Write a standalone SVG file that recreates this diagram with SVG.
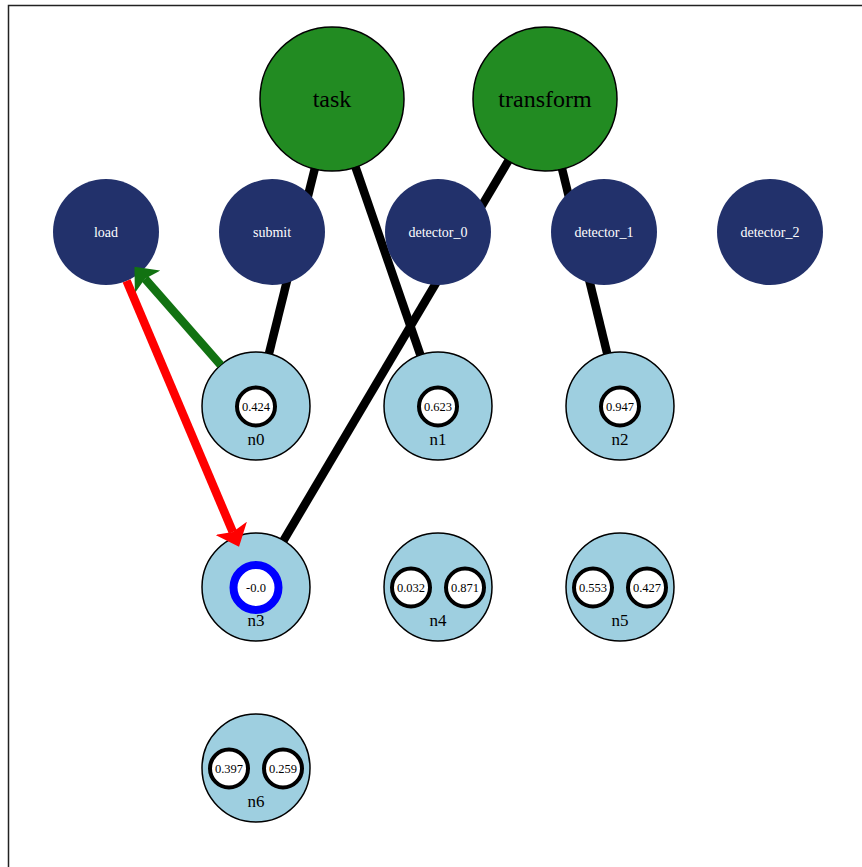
<svg xmlns="http://www.w3.org/2000/svg" width="862" height="867" viewBox="0 0 862 867">
<style>
  text { font-family: "Liberation Serif", "Times New Roman", serif; text-anchor: middle; }
  .big { fill: #228b22; stroke: #000; stroke-width: 1.5; }
  .big-t { font-size: 24px; fill: #000; }
  .navy { fill: #22316b; }
  .navy-t { font-size: 14px; fill: #fff; }
  .lb { fill: #9ecfe0; stroke: #000; stroke-width: 1.5; }
  .lb-t { font-size: 17px; fill: #000; }
  .in { fill: #fff; stroke: #000; stroke-width: 4; }
  .in-sel { fill: #fff; stroke: #0000ff; stroke-width: 8; }
  .num { font-size: 12.5px; fill: #000; }
  .edge { stroke: #000; stroke-width: 8.5; fill: none; }
  .arrow-g { stroke: #127212; stroke-width: 8.5; fill: none; }
  .arrow-r { stroke: #ff0000; stroke-width: 8.5; fill: none; }
</style>
<defs>
  <marker id="headG" viewBox="0 0 20 34" refX="4" refY="17" markerWidth="20" markerHeight="34" markerUnits="userSpaceOnUse" orient="auto">
    <path d="M0,0 L20,17 L0,34 L4,17 z" fill="#127212"/>
  </marker>
  <marker id="headR" viewBox="0 0 20 34" refX="4" refY="17" markerWidth="20" markerHeight="34" markerUnits="userSpaceOnUse" orient="auto">
    <path d="M0,0 L20,17 L0,34 L4,17 z" fill="#ff0000"/>
  </marker>
</defs>
<rect x="8.5" y="5.5" width="900" height="900" fill="none" stroke="#222" stroke-width="1.5"/>

<g id="connectors">
  <line class="edge" x1="332" y1="99" x2="256" y2="406"/>
  <line class="edge" x1="332" y1="99" x2="438" y2="406"/>
  <line class="edge" x1="545" y1="99" x2="256" y2="587"/>
  <line class="edge" x1="545" y1="99" x2="620" y2="406"/>
</g>

<g id="task"><circle class="big" cx="332" cy="99" r="72"/><text class="big-t" x="332" y="107">task</text></g>
<g id="transform"><circle class="big" cx="545" cy="99" r="72"/><text class="big-t" x="545" y="107">transform</text></g>

<g id="load"><circle class="navy" cx="106" cy="232" r="53"/><text class="navy-t" x="106" y="237">load</text></g>
<g id="submit"><circle class="navy" cx="272" cy="232" r="53"/><text class="navy-t" x="272" y="237">submit</text></g>
<g id="detector_0"><circle class="navy" cx="438" cy="232" r="53"/><text class="navy-t" x="438" y="237">detector_0</text></g>
<g id="detector_1"><circle class="navy" cx="604" cy="232" r="53"/><text class="navy-t" x="604" y="237">detector_1</text></g>
<g id="detector_2"><circle class="navy" cx="770" cy="232" r="53"/><text class="navy-t" x="770" y="237">detector_2</text></g>

<g id="n0"><circle class="lb" cx="256" cy="406" r="54"/>
  <circle class="in" cx="256" cy="406.5" r="19"/><text class="num" x="256" y="411">0.424</text>
  <text class="lb-t" x="256" y="445">n0</text></g>
<g id="n1"><circle class="lb" cx="438" cy="406" r="54"/>
  <circle class="in" cx="438" cy="406.5" r="19"/><text class="num" x="438" y="411">0.623</text>
  <text class="lb-t" x="438" y="445">n1</text></g>
<g id="n2"><circle class="lb" cx="620" cy="406" r="54"/>
  <circle class="in" cx="620" cy="406.5" r="19"/><text class="num" x="620" y="411">0.947</text>
  <text class="lb-t" x="620" y="445">n2</text></g>
<g id="n3"><circle class="lb" cx="256" cy="587" r="54"/>
  <circle class="in-sel" cx="256" cy="587.5" r="22.5"/><text class="num" x="256" y="592">-0.0</text>
  <text class="lb-t" x="256" y="626">n3</text></g>
<g id="n4"><circle class="lb" cx="438" cy="587" r="54"/>
  <circle class="in" cx="411" cy="587.5" r="19"/><text class="num" x="411" y="592">0.032</text>
  <circle class="in" cx="465" cy="587.5" r="19"/><text class="num" x="465" y="592">0.871</text>
  <text class="lb-t" x="438" y="626">n4</text></g>
<g id="n5"><circle class="lb" cx="620" cy="587" r="54"/>
  <circle class="in" cx="593" cy="587.5" r="19"/><text class="num" x="593" y="592">0.553</text>
  <circle class="in" cx="647" cy="587.5" r="19"/><text class="num" x="647" y="592">0.427</text>
  <text class="lb-t" x="620" y="626">n5</text></g>
<g id="n6"><circle class="lb" cx="256" cy="768" r="54"/>
  <circle class="in" cx="229" cy="768.5" r="19"/><text class="num" x="229" y="773">0.397</text>
  <circle class="in" cx="283" cy="768.5" r="19"/><text class="num" x="283" y="773">0.259</text>
  <text class="lb-t" x="256" y="807">n6</text></g>

<g id="arrows">
  <line class="arrow-g" x1="220.7" y1="365" x2="145" y2="278.8" marker-end="url(#headG)"/>
  <line class="arrow-r" x1="126.6" y1="280.8" x2="232.8" y2="532" marker-end="url(#headR)"/>
</g>
</svg>
